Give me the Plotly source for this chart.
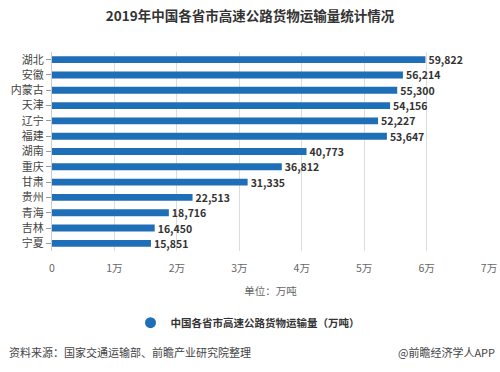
import plotly.graph_objects as go

provinces = ["湖北", "安徽", "内蒙古", "天津", "辽宁", "福建", "湖南", "重庆", "甘肃", "贵州", "青海", "吉林", "宁夏"]
values = [59822, 56214, 55300, 54156, 52227, 53647, 40773, 36812, 31335, 22513, 18716, 16450, 15851]
tick_vals = [0, 10000, 20000, 30000, 40000, 50000, 60000, 70000]
tick_text = ["0", "1万", "2万", "3万", "4万", "5万", "6万", "7万"]
series_name = "中国各省市高速公路货物运输量（万吨）"

FONT = "Noto Sans CJK SC"
BLUE = "#1f6fb8"

fig = go.Figure()
fig.add_trace(go.Bar(
    y=provinces, x=values, orientation="h",
    marker=dict(color=BLUE, line=dict(width=0)),
    width=0.45,
    text=[f"<b>{v:,}</b>" for v in values],
    textposition="outside",
    constraintext="none",
    textfont=dict(family=FONT, size=10.5, color="#333333"),
    cliponaxis=False,
    showlegend=False,
))
fig.add_trace(go.Scatter(
    x=[None], y=[None], mode="markers",
    marker=dict(symbol="circle", size=11, color=BLUE),
    name="<b>" + series_name + "</b>", showlegend=True,
))

fig.update_layout(
    width=500, height=372,
    margin=dict(l=52, r=11, t=52, b=121, autoexpand=False),
    paper_bgcolor="white", plot_bgcolor="white",
    font=dict(family=FONT, size=11, color="#555555"),
    title=dict(text="<b>2019年中国各省市高速公路货物运输量统计情况</b>",
               x=0.5, xanchor="center", y=0.955, yanchor="middle",
               font=dict(family=FONT, size=13.5, color="#333333")),
    xaxis=dict(range=[0, 70000], tickvals=tick_vals, ticktext=tick_text,
               automargin=False,
               showgrid=True, gridcolor="#dddddd", gridwidth=1,
               zeroline=False, showline=False, ticks="",
               ticklabelstandoff=9,
               tickfont=dict(family=FONT, size=10.5, color="#666666"),
               title=dict(text="单位：万吨", standoff=14,
                          font=dict(family=FONT, size=10.5, color="#666666"))),
    yaxis=dict(autorange="reversed", showline=True, linecolor="#cccccc",
               automargin=False,
               ticks="outside", ticklen=5, tickcolor="#999999",
               tickfont=dict(family=FONT, size=11, color="#444444"),
               showgrid=False),
    bargap=0.5,
    legend=dict(orientation="h", xref="container", x=0.495, xanchor="center",
                y=-0.36, yanchor="middle",
                font=dict(family=FONT, size=10.5, color="#333333")),
    annotations=[
        dict(text="资料来源：国家交通运输部、前瞻产业研究院整理", xref="paper", yref="paper",
             x=-0.103, y=-0.51, xanchor="left", yanchor="middle", showarrow=False,
             font=dict(family=FONT, size=11, color="#444444")),
        dict(text="@前瞻经济学人APP", xref="paper", yref="paper",
             x=1.018, y=-0.51, xanchor="right", yanchor="middle", showarrow=False,
             font=dict(family=FONT, size=11, color="#444444")),
    ],
)

fig.write_html("out.html", config={"displayModeBar": False},
               post_script="document.body.style.margin='0';")
